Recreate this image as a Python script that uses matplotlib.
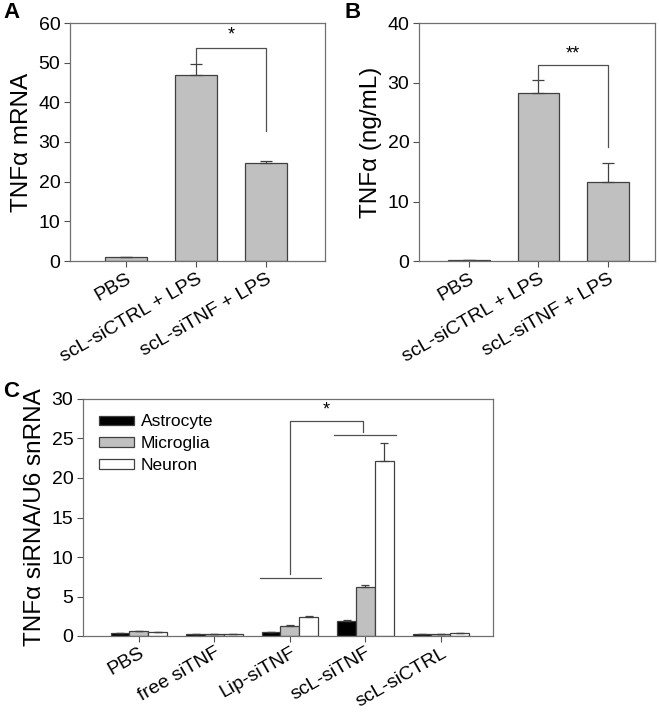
import numpy as np
import matplotlib.pyplot as plt

plt.rcParams['font.family'] = ['Liberation Sans', 'DejaVu Sans']

# panel A / B
ab_labels = ['PBS', 'scL-siCTRL + LPS', 'scL-siTNF + LPS']
mrna = [1.0, 47.0, 24.6]
mrna_err = [0.0, 2.7, 0.7]
prot = [0.2, 28.2, 13.3]
prot_err = [0.0, 2.2, 3.2]

# panel C
c_labels = ['PBS', 'free siTNF', 'Lip-siTNF', 'scL-siTNF', 'scL-siCTRL']
astro = [0.4, 0.3, 0.5, 1.9, 0.3]
astro_err = [0.0, 0.0, 0.0, 0.15, 0.0]
micro = [0.6, 0.3, 1.3, 6.2, 0.3]
micro_err = [0.0, 0.0, 0.1, 0.3, 0.0]
neuron = [0.5, 0.3, 2.4, 22.1, 0.4]
neuron_err = [0.0, 0.0, 0.1, 2.3, 0.0]

W, H = 659, 713
fig = plt.figure(figsize=(W / 100, H / 100), dpi=100)
TICK = 14
XT = 14
YL = 17.5


def px_axes(l, t, r, b):
    return fig.add_axes([l / W, 1 - b / H, (r - l) / W, (b - t) / H])


def style(ax):
    for s in ax.spines.values():
        s.set_color('#707070')
        s.set_linewidth(0.9)
    ax.tick_params(direction='out', length=4, color='#505050', labelsize=TICK,
                   top=False, right=False, pad=3)


def simple_panel(ax, vals, errs, ymax, ylabel):
    x = np.arange(len(vals))
    ax.bar(x, vals, width=0.6, color='#c0c0c0', edgecolor='#404040', linewidth=0.9)
    ax.errorbar(x, vals, yerr=[np.zeros(len(errs)), errs], fmt='none',
                ecolor='#404040', elinewidth=0.9, capsize=4, capthick=0.9)
    ax.set_ylim(0, ymax)
    ax.set_xticks(x)
    ax.set_xticklabels(ab_labels, rotation=30, ha='right', rotation_mode='anchor',
                       fontsize=XT)
    ax.set_ylabel(ylabel, fontsize=YL, labelpad=4)
    style(ax)


# A
axA = px_axes(70, 23, 325, 261)
simple_panel(axA, mrna, mrna_err, 60, 'TNFα mRNA')
axA.set_xlim(-0.8, 2.84)
axA.set_yticks(range(0, 61, 10))
axA.plot([1, 1, 2, 2], [49.9, 53.8, 53.8, 32.8], color='#505050', lw=0.9)
axA.text(1.5, 54.8, '*', ha='center', va='bottom', fontsize=13)
fig.text(3 / W, 1 - 2 / H, 'A', fontsize=16, fontweight='bold', va='top')

# B
axB = px_axes(419, 23, 655, 261)
simple_panel(axB, prot, prot_err, 40, 'TNFα (ng/mL)')
axB.set_xlim(-0.72, 2.68)
axB.set_yticks(range(0, 41, 10))
axB.plot([1, 1, 2, 2], [30.4, 32.9, 32.9, 19.2], color='#505050', lw=0.9)
axB.text(1.5, 33.4, '**', ha='center', va='bottom', fontsize=13)
fig.text(345 / W, 1 - 2 / H, 'B', fontsize=16, fontweight='bold', va='top')

# C
axC = px_axes(83, 399, 493, 636)
x = np.arange(len(c_labels))
bw = 0.25
series = [(astro, astro_err, '#000000', 'Astrocyte'),
          (micro, micro_err, '#c0c0c0', 'Microglia'),
          (neuron, neuron_err, '#ffffff', 'Neuron')]
for i, (v, e, c, name) in enumerate(series):
    xi = x + (i - 1) * bw
    axC.bar(xi, v, width=bw, color=c, edgecolor='#404040', linewidth=0.9, label=name)
    axC.errorbar(xi, v, yerr=[np.zeros(len(e)), e], fmt='none', ecolor='#404040',
                 elinewidth=0.9, capsize=3, capthick=0.9)
axC.set_xlim(-0.74, 4.69)
axC.set_ylim(0, 30)
axC.set_yticks(range(0, 31, 5))
axC.set_xticks(x)
axC.set_xticklabels(c_labels, rotation=30, ha='right', rotation_mode='anchor',
                    fontsize=12)
axC.set_ylabel('TNFα siRNA/U6 snRNA', fontsize=YL, labelpad=4)
style(axC)
axC.tick_params(axis='x', pad=2)
axC.plot([1.6, 2.41], [7.4, 7.4], color='#505050', lw=0.9)
axC.plot([2.59, 3.4], [25.4, 25.4], color='#505050', lw=0.9)
axC.plot([2.0, 2.0, 2.97, 2.97], [7.9, 27.2, 27.2, 25.8], color='#505050', lw=0.9)
axC.text(2.48, 27.5, '*', ha='center', va='bottom', fontsize=13)
leg = axC.legend(loc='upper left', bbox_to_anchor=(0.039, 0.935), frameon=False,
                 fontsize=12.5, handlelength=2.0, handleheight=0.45,
                 handletextpad=0.4, labelspacing=0.4, borderaxespad=0.0,
                 borderpad=0.0)
fig.text(3 / W, 1 - 381 / H, 'C', fontsize=16, fontweight='bold', va='top')

fig.savefig('out.png', dpi=100)
